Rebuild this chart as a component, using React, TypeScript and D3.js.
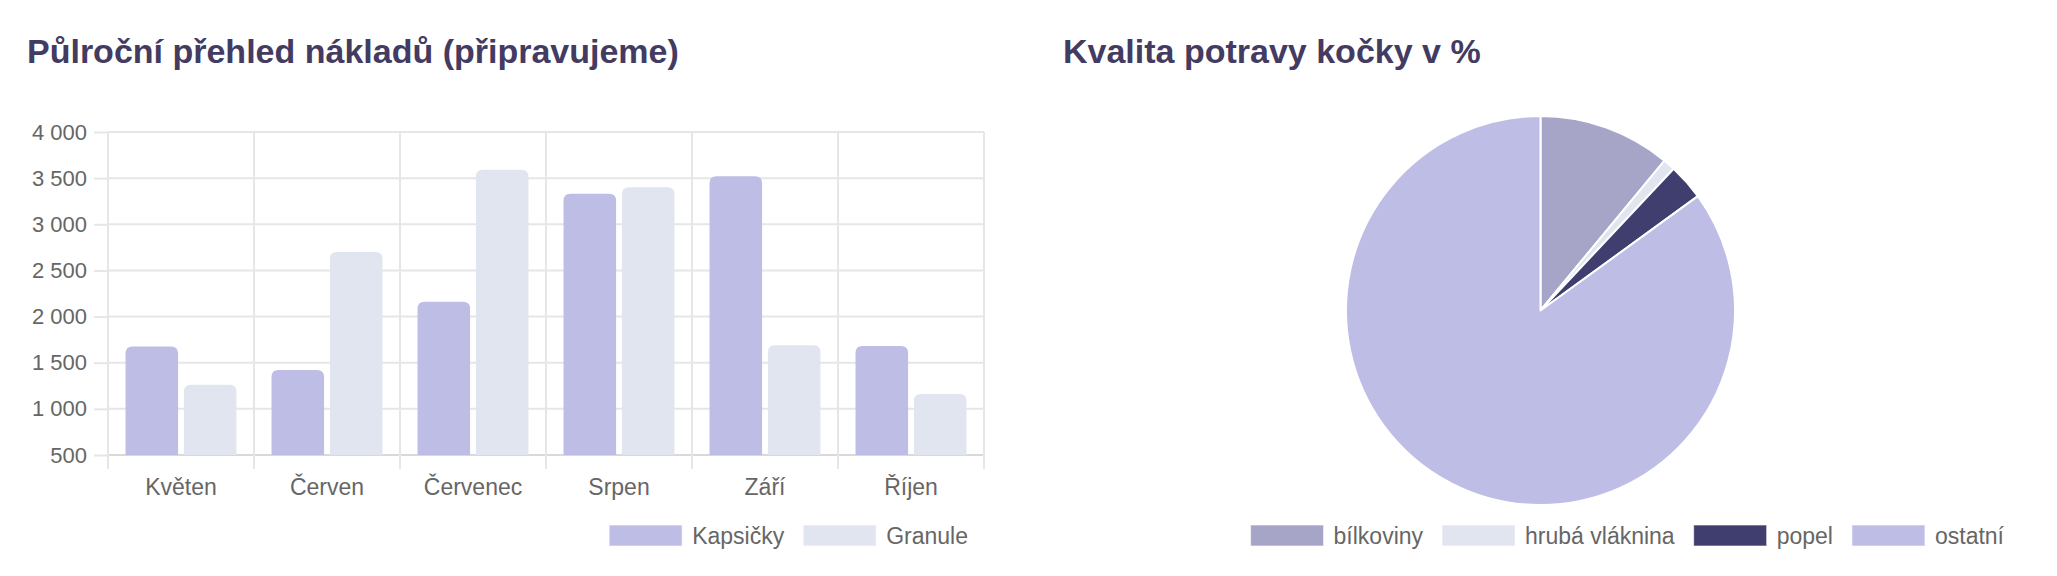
import { useEffect, useRef } from "react";
import * as d3 from "d3";

const W = 2057;
const H = 576;
const FONT = "'Liberation Sans', Arial, Helvetica, sans-serif";

const months = ["Květen", "Červen", "Červenec", "Srpen", "Září", "Říjen"];
const barSeries = ["Kapsičky", "Granule"];
const kapsicky = [1675, 1420, 2160, 3330, 3520, 1680];
const granule = [1260, 2700, 3590, 3400, 1690, 1160];
const yTicks = [500, 1000, 1500, 2000, 2500, 3000, 3500, 4000];
const barColors = ["#bebde6", "#e1e5ef"];

const pieLabels = ["bílkoviny", "hrubá vláknina", "popel", "ostatní"];
const pieValues = [11, 1, 3, 85];
const pieColors = ["#a6a5c7", "#e1e5ef", "#3f3e6f", "#bebde6"];

// plot area of the bar chart
const B = { left: 108, right: 984, top: 132, bottom: 455 };
const PIE = { cx: 1540.5, cy: 310.5, r: 194.5 };

const fmt = d3.formatLocale({ decimal: ",", thousands: " ", grouping: [3], currency: ["", " Kč"] }).format(",d");

const roundTopRect = (x: number, y: number, w: number, h: number, r: number) => {
    const rr = Math.min(r, w / 2, h);
    return `M${x},${y + h}V${y + rr}Q${x},${y} ${x + rr},${y}H${x + w - rr}Q${x + w},${y} ${x + w},${y + rr}V${y + h}Z`;
};

// legend drawn with d3 so the text can be measured, right aligned at endX
const drawLegend = (g: d3.Selection<SVGGElement, unknown, null, undefined>, labels: string[], colors: string[], endX: number, y: number) => {
    g.selectAll("*").remove();
    const boxW = 73, boxH = 21, gap = 10, spacing = 19;
    const items = labels.map((l, i) => {
        const it = g.append("g");
        it.append("rect").attr("width", boxW).attr("height", boxH).attr("y", y - boxH / 2).attr("fill", colors[i]).attr("stroke", "rgba(255,255,255,0.6)").attr("stroke-width", 1);
        const t = it.append("text").attr("x", boxW + gap).attr("y", y + 8).attr("font-size", 23).attr("fill", "#666").attr("font-family", FONT).text(l);
        const tw = (t.node() as SVGTextElement).getComputedTextLength();
        return { it, w: boxW + gap + tw };
    });
    const total = d3.sum(items, (d) => d.w) + spacing * (items.length - 1);
    let x = endX - total;
    items.forEach((d) => {
        d.it.attr("transform", `translate(${x},0)`);
        x += d.w + spacing;
    });
};

export default function App() {
    const axesRef = useRef<SVGGElement>(null);
    const barLegRef = useRef<SVGGElement>(null);
    const pieLegRef = useRef<SVGGElement>(null);

    const xScale = d3.scaleBand<string>().domain(months).range([B.left, B.right]).padding(0);
    const bw = xScale.bandwidth();
    const subScale = d3.scaleBand<string>().domain(barSeries).range([0.1 * bw, 0.9 * bw]).paddingInner(0.1).paddingOuter(0.05);
    const yScale = d3.scaleLinear().domain([500, 4000]).range([B.bottom, B.top]);

    const seriesValues = [kapsicky, granule];

    const pie = d3.pie<number>().sort(null).value((d) => d)(pieValues);
    const arc = d3.arc<d3.PieArcDatum<number>>().innerRadius(0).outerRadius(PIE.r);

    useEffect(() => {
        const g = d3.select(axesRef.current);
        g.selectAll("*").remove();
        const yAxis = d3.axisLeft(yScale).tickValues(yTicks).tickSize(14).tickPadding(7).tickFormat((d) => fmt(d as number));
        const ya = g.append("g").attr("transform", `translate(${B.left},0)`).call(yAxis);
        ya.select(".domain").remove();
        ya.selectAll(".tick line").attr("stroke", "#e6e6e6").attr("stroke-width", 2);
        ya.selectAll(".tick text").attr("font-size", 22).attr("fill", "#666").attr("font-family", FONT);

        if (barLegRef.current) drawLegend(d3.select(barLegRef.current), barSeries, barColors, 968, 535.5);
        if (pieLegRef.current) drawLegend(d3.select(pieLegRef.current), pieLabels, pieColors, 2004, 535.5);
    }, []);

    const bounds = [...months.map((m) => xScale(m) as number), B.right];

    return (
        <svg width={W} height={H} style={{ position: "absolute", left: 0, top: 0, background: "#fff" }} fontFamily={FONT}>
            <text x={27} y={63} fontSize={34} fontWeight="bold" fill="#433b61">
                Půlroční přehled nákladů (připravujeme)
            </text>
            <text x={1063} y={63} fontSize={34} fontWeight="bold" fill="#433b61">
                Kvalita potravy kočky v %
            </text>

            {/* grid */}
            <g>
                {yTicks.map((t) => (
                    <line key={t} x1={B.left} x2={B.right} y1={yScale(t)} y2={yScale(t)} stroke={t === 500 ? "#d9d9d9" : "#e6e6e6"} strokeWidth={2} />
                ))}
                {bounds.map((x, i) => (
                    <line key={i} x1={x} x2={x} y1={B.top} y2={B.bottom + 14} stroke="#e6e6e6" strokeWidth={2} />
                ))}
            </g>
            <g ref={axesRef} />

            {/* bars */}
            {barSeries.map((s, si) => (
                <g key={s} fill={barColors[si]}>
                    {months.map((m, i) => {
                        const x = (xScale(m) as number) + (subScale(s) as number);
                        const y = yScale(seriesValues[si][i]);
                        return <path key={m} d={roundTopRect(x, y, subScale.bandwidth(), B.bottom - y, 7)} />;
                    })}
                </g>
            ))}

            {/* x labels */}
            {months.map((m) => (
                <text key={m} x={(xScale(m) as number) + bw / 2} y={495} textAnchor="middle" fontSize={23} fill="#666">
                    {m}
                </text>
            ))}

            {/* pie */}
            <g transform={`translate(${PIE.cx},${PIE.cy})`}>
                {pie.map((d, i) => (
                    <path key={pieLabels[i]} d={arc(d) || ""} fill={pieColors[i]} stroke="#fff" strokeWidth={2} strokeLinejoin="round" />
                ))}
            </g>

            <g ref={barLegRef} />
            <g ref={pieLegRef} />
        </svg>
    );
}
